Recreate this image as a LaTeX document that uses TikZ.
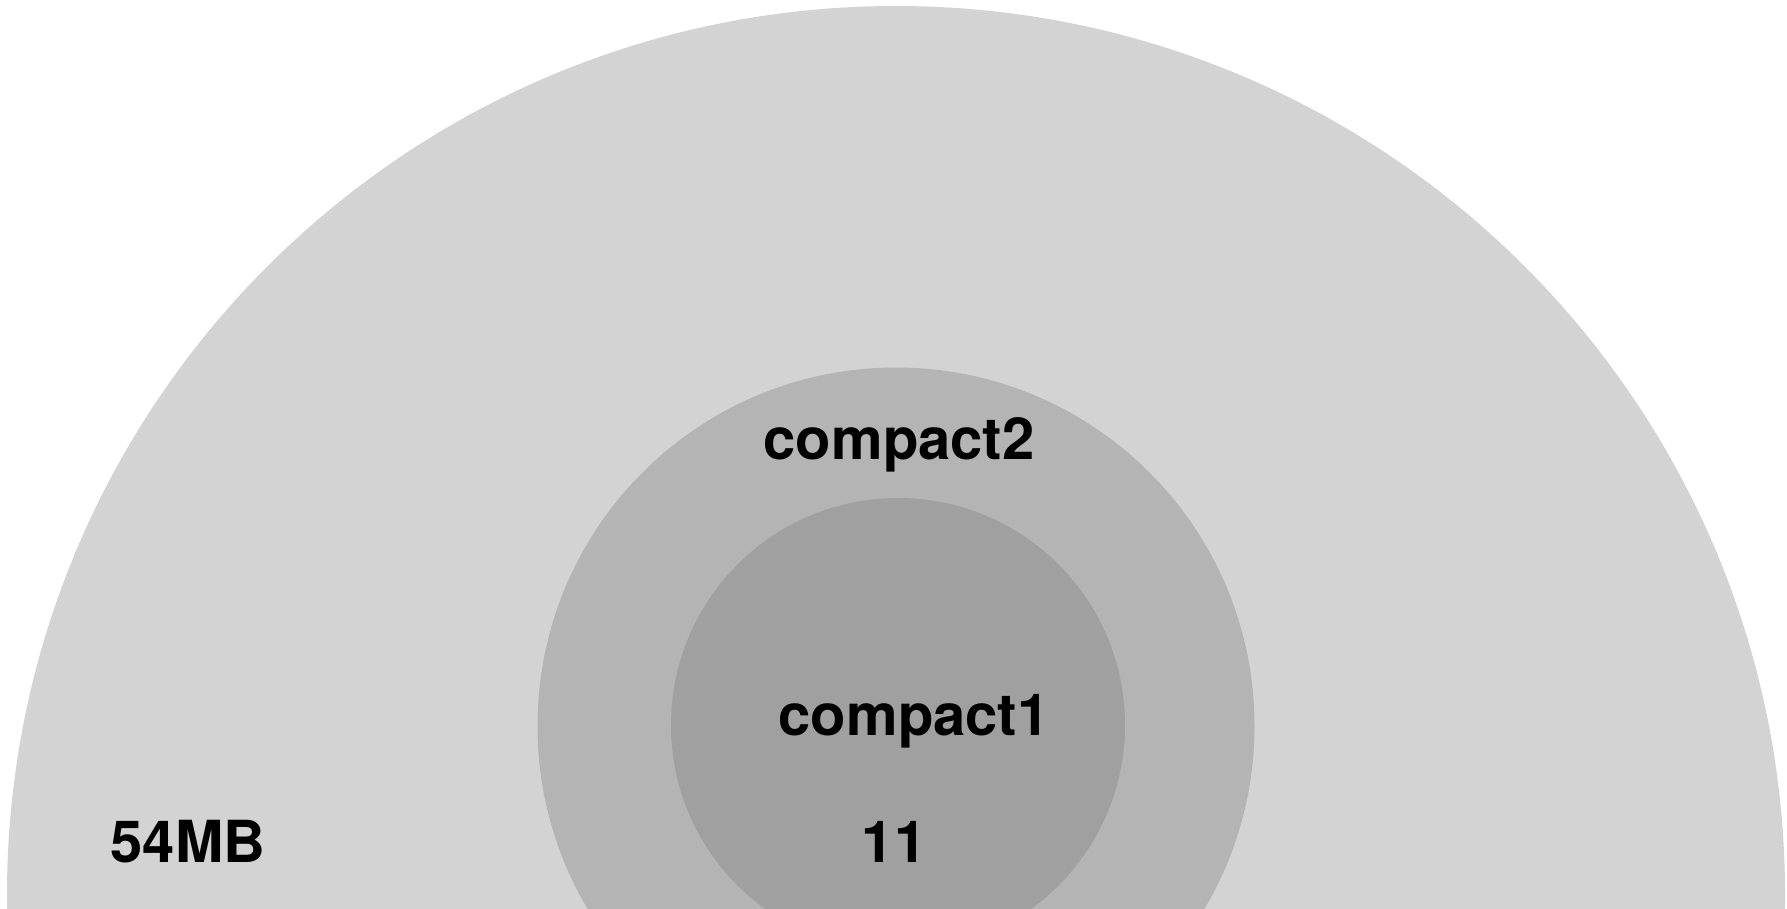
\documentclass[tikz,border=0pt]{standalone}
\usepackage{fontspec}
\setmainfont{TeX Gyre Heros}
\definecolor{ringA}{HTML}{D3D3D3}
\definecolor{ringB}{HTML}{B4B4B4}
\definecolor{ringC}{HTML}{A0A0A0}
\begin{document}
\begin{tikzpicture}[x=1pt,y=-1pt,
  lbl/.style={anchor=base,inner sep=0pt,font=\fontsize{58}{58}\selectfont\bfseries,text=black}]
\useasboundingbox (0,0) rectangle (1787,908);
\clip (0,0) rectangle (1787,908);
\fill[ringA] (896,895) circle[radius=889];
\fill[ringB] (896,726) circle[radius=358.5];
\fill[ringC] (898,725) circle[radius=227];
\node[lbl] (c2) at (899,459) {compact2};
\node[lbl] (c1) at (914,735) {compact1};
\node[lbl] (n11) at (894,862) {11};
\node[lbl] (mb) at (188,862) {54MB};
\end{tikzpicture}
\end{document}
